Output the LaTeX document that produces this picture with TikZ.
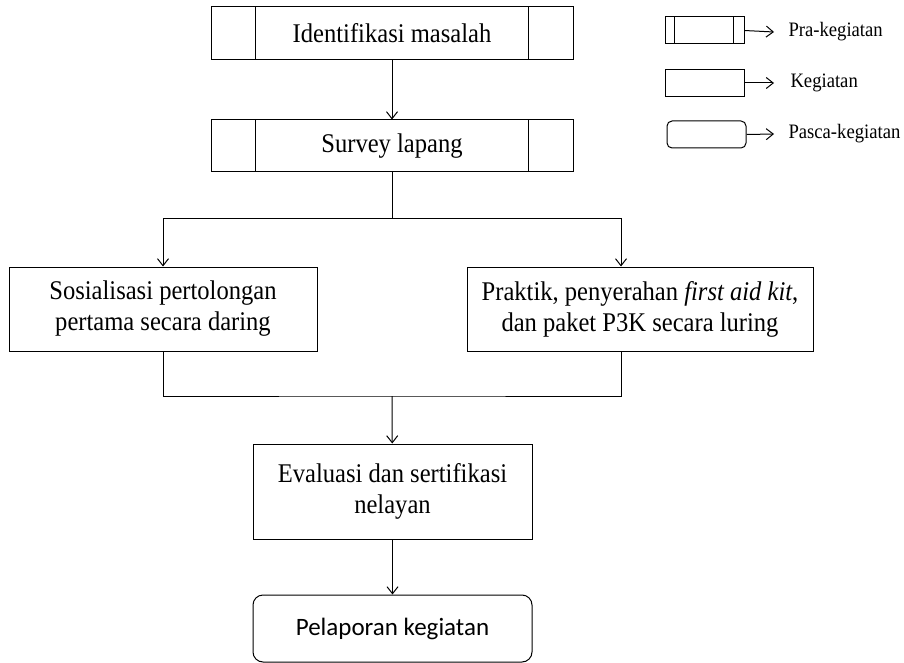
\documentclass[tikz,border=0pt]{standalone}
\usepackage{fontspec}
\setmainfont{Liberation Serif}[FakeStretch = 0.91]
\newfontfamily\carlito{Carlito}
\usetikzlibrary{arrows.meta}

\begin{document}
\begin{tikzpicture}[x = 1pt, y = -1pt, line width = 1pt,
  >={Straight Barb[length=7pt, width=11pt]},
  kotak/.style = {draw, rectangle, align = center, inner sep = 0pt, font = \fontsize{27}{31}\selectfont},
  kecil/.style = {draw, rectangle, minimum width = 79pt, minimum height = 27pt},
  ket/.style = {anchor = west, inner sep = 0pt, font = \fontsize{20.5}{23}\selectfont}]
  \useasboundingbox (0,0) rectangle (904,663);
  \node [kotak, minimum width = 362pt, minimum height = 53pt] (idm) at (392, 33.5) {Identifikasi masalah};
  \node [kotak, minimum width = 362pt, minimum height = 52pt] (svy) at (392, 146) {Survey lapang};
  \foreach \n in {idm, svy}
  {\draw ([xshift = 45pt]\n.north west) -- ([xshift = 45pt]\n.south west);
  \draw ([xshift = -45pt]\n.north east) -- ([xshift = -45pt]\n.south east);}
  \node [kotak, minimum width = 308pt, minimum height = 84pt] (sos) at (163, 309) {Sosialisasi pertolongan\\pertama secara daring};
  \node [kotak, minimum width = 346pt, minimum height = 84pt] (prk) at (640, 309) {Praktik, penyerahan \textit{first aid kit},\\dan paket P3K secara luring};
  \node [kotak, minimum width = 279pt, minimum height = 95pt] (eva) at (392.5, 491.5) {Evaluasi dan sertifikasi\\nelayan};
  \node [kotak, rounded corners = 10pt, minimum width = 279pt, minimum height = 67pt, font = \carlito\fontsize{25}{29}\selectfont] (lap) at (392.5, 628.5) {Pelaporan kegiatan};
  \coordinate (cab) at (392, 218);
  \coordinate (kiri) at (163, 218);
  \coordinate (kanan) at (621, 218);
  \coordinate (gab) at (392, 396);
  \draw [->] (idm) -- (svy);
  \draw (svy) -- (cab);
  \draw (kiri) -- (kanan);
  \draw [->] (kiri) -- (sos);
  \draw [->] (kanan) -- (kanan |- prk.north);
  \draw (sos.south) |- (gab) -| (kanan |- prk.south);
  \draw [->] (gab) -- (eva);
  \draw [->] (eva) -- (lap);
  \node [kecil] (lg1) at (704.5, 30.5) {};
  \node [kecil] (lg2) at (704.5, 83) {};
  \node [kecil, rounded corners = 5pt] (lg3) at (706.5, 134.5) {};
  \draw ([xshift = 10pt]lg1.north west) -- ([xshift = 10pt]lg1.south west);
  \draw ([xshift = -11pt]lg1.north east) -- ([xshift = -11pt]lg1.south east);
  \node [ket] (t1) at (788, 32) {Pra-kegiatan};
  \node [ket] (t2) at (790, 83) {Kegiatan};
  \node [ket] (t3) at (788, 134) {Pasca-kegiatan};
  \draw [->] (lg1.east) -- ([xshift = -14pt]t1.west);
  \draw [->] (lg2.east) -- ([xshift = -16pt]t2.west);
  \draw [->] (lg3.east) -- ([xshift = -14pt]t3.west);
\end{tikzpicture}
\end{document}
